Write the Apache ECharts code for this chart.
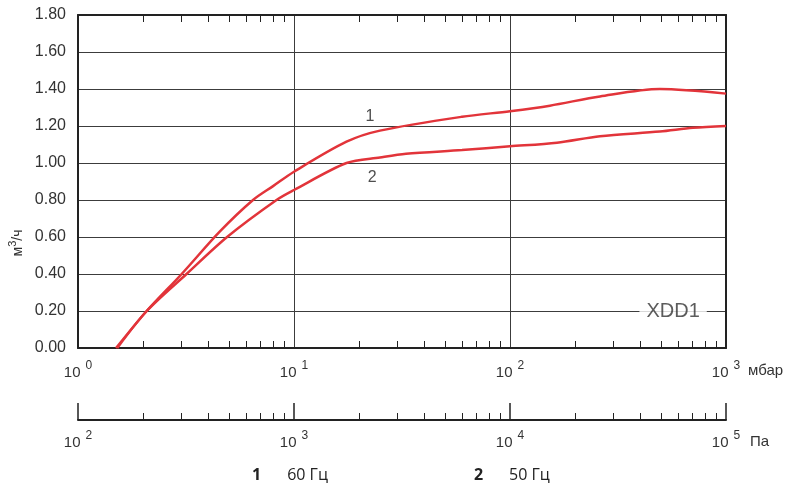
<!DOCTYPE html>
<html><head><meta charset="utf-8">
<script src="https://cdn.jsdelivr.net/npm/echarts@6/dist/echarts.min.js"></script>
<style>html,body{margin:0;padding:0;background:#fff}#c{width:800px;height:487px}</style>
</head><body><div id="c"></div>
<script>
// ---- data ----
const seriesNames = ['60 Гц', '50 Гц'];
const legendNums = ['1', '2'];
const curve60 = [[1.5,0],[2.08,0.2],[3.02,0.4],[4.54,0.63],[6.46,0.8],[8,0.875],[10,0.953],[17.5,1.115],[25,1.175],[60,1.25],[100,1.28],[153,1.31],[261,1.36],[494,1.40],[1000,1.375]];
const curve50 = [[1.52,0],[2.08,0.2],[3.18,0.4],[4.9,0.6],[8.3,0.8],[10,0.854],[17.5,1.0],[25,1.03],[33,1.05],[60,1.07],[100,1.09],[165,1.11],[261,1.145],[494,1.17],[703,1.19],[1000,1.2]];
const yTicks = [0, 0.2, 0.4, 0.6, 0.8, 1.0, 1.2, 1.4, 1.6, 1.8];
const mbarDecades = [1, 10, 100, 1000];
const mbarMinor = [2,3,4,5,6,7,8,9,20,30,40,50,60,70,80,90,200,300,400,500,600,700,800,900];
const paDecades = [100, 1000, 10000, 100000];
const paMinor = [200,300,400,500,600,700,800,900,2000,3000,4000,5000,6000,7000,8000,9000,20000,30000,40000,50000,60000,70000,80000,90000];
const curveTags = [{value:[22.5,1.25], name:'1'}, {value:[23,0.92], name:'2'}];
const modelTag = [{value:[569,0.2], name:'XDD1'}];
const unitMbar = 'мбар';
const unitPa = 'Па';
const yUnit = '{a|м}{s|3}{a|/ч}';

// ---- chart ----
const FONT = 'Liberation Sans, Arial, sans-serif';
const AX = '#222', GR = '#3c3c3c', TXT = '#333';
const RED = '#e2343a';
const powRich = {
  b: {fontSize: 15, fontFamily: FONT, color: TXT, verticalAlign: 'bottom', lineHeight: 20},
  s: {fontSize: 12, fontFamily: FONT, color: TXT, verticalAlign: 'top', lineHeight: 20, padding: [0,0,0,5]}
};
const powFmt = v => '{b|10}{s|' + Math.round(Math.log10(v)) + '}';
const el = document.getElementById('c');
const chart = echarts.init(el);
chart.setOption({
  animation: false,
  textStyle: {fontFamily: FONT},
  grid: [
    {left: 78, right: 74, top: 15, bottom: 139},
    {left: 78, right: 74, top: 400, height: 20}
  ],
  legend: {
    top: 462, left: 241, itemGap: 140, icon: 'none', itemWidth: 1, selectedMode: false,
    data: seriesNames,
    formatter: name => '{n|' + legendNums[seriesNames.indexOf(name)] + '}{t|' + name + '}',
    textStyle: {
      rich: {
        n: {fontWeight: 'bold', fontSize: 16, fontFamily: 'Open Sans', color: '#222', padding: [0, 26, 0, 0]},
        t: {fontSize: 16, fontFamily: 'Open Sans', color: '#222'}
      }
    }
  },
  xAxis: [
    { // main mbar axis: labels + vertical grid
      gridIndex: 0, type: 'log', logBase: 10, min: 1, max: 1000, position: 'bottom',
      axisLine: {show: true, lineStyle: {color: AX, width: 2}},
      axisTick: {show: false},
      axisLabel: {customValues: mbarDecades, formatter: powFmt, rich: powRich, margin: 12},
      splitLine: {show: true, lineStyle: {color: GR, width: 1}},
      name: unitMbar, nameLocation: 'end', nameGap: 22,
      nameTextStyle: {fontSize: 15, color: TXT, fontFamily: FONT, verticalAlign: 'top', padding: [15, 0, 0, 0]}
    },
    { // bottom minor ticks
      gridIndex: 0, type: 'log', logBase: 10, min: 1, max: 1000, position: 'bottom',
      axisLine: {show: false},
      axisTick: {show: true, inside: true, length: 7, customValues: mbarMinor, lineStyle: {color: AX, width: 1}},
      axisLabel: {show: false}, splitLine: {show: false}
    },
    { // top border with minor ticks
      gridIndex: 0, type: 'log', logBase: 10, min: 1, max: 1000, position: 'top',
      axisLine: {show: true, lineStyle: {color: AX, width: 2}},
      axisTick: {show: true, inside: true, length: 7, customValues: mbarMinor, lineStyle: {color: AX, width: 1}},
      axisLabel: {show: false}, splitLine: {show: false}
    },
    { // Pa axis: decades
      gridIndex: 1, type: 'log', logBase: 10, min: 100, max: 100000, position: 'bottom',
      axisLine: {show: true, lineStyle: {color: AX, width: 2}},
      axisTick: {show: true, inside: true, length: 17, customValues: paDecades, lineStyle: {color: AX, width: 1.5}},
      axisLabel: {customValues: paDecades, formatter: powFmt, rich: powRich, margin: 10},
      splitLine: {show: false},
      name: unitPa, nameLocation: 'end', nameGap: 24,
      nameTextStyle: {fontSize: 15, color: TXT, fontFamily: FONT, verticalAlign: 'top', padding: [14, 0, 0, 0]}
    },
    { // Pa axis minor ticks
      gridIndex: 1, type: 'log', logBase: 10, min: 100, max: 100000, position: 'bottom',
      axisLine: {show: false},
      axisTick: {show: true, inside: true, length: 7, customValues: paMinor, lineStyle: {color: AX, width: 1}},
      axisLabel: {show: false}, splitLine: {show: false}
    }
  ],
  yAxis: [
    {
      gridIndex: 0, type: 'value', min: 0, max: 1.8, interval: 0.2, position: 'left',
      axisLine: {show: true, lineStyle: {color: AX, width: 2}},
      axisTick: {show: false},
      axisLabel: {customValues: yTicks, formatter: v => v.toFixed(2), fontSize: 16, color: TXT, fontFamily: FONT, margin: 12},
      splitLine: {show: true, lineStyle: {color: GR, width: 1}}
    },
    {
      gridIndex: 0, type: 'value', min: 0, max: 1.8, position: 'right',
      axisLine: {show: true, lineStyle: {color: AX, width: 2}},
      axisTick: {show: false}, axisLabel: {show: false}, splitLine: {show: false}
    },
    {gridIndex: 1, type: 'value', min: 0, max: 1, show: false}
  ],
  graphic: [{
    type: 'text', x: 16, y: 243, rotation: Math.PI / 2,
    style: {
      text: yUnit, align: 'center', verticalAlign: 'middle',
      rich: {
        a: {fontSize: 14, fontFamily: FONT, fill: TXT, verticalAlign: 'bottom', lineHeight: 18},
        s: {fontSize: 11, fontFamily: FONT, fill: TXT, verticalAlign: 'top', lineHeight: 18}
      }
    }
  }],
  series: [
    {name: seriesNames[0], type: 'line', xAxisIndex: 0, yAxisIndex: 0, data: curve60, smooth: 0.3,
     showSymbol: false, lineStyle: {color: RED, width: 2.5}, itemStyle: {color: RED}, z: 5},
    {name: seriesNames[1], type: 'line', xAxisIndex: 0, yAxisIndex: 0, data: curve50, smooth: 0.3,
     showSymbol: false, lineStyle: {color: RED, width: 2.5}, itemStyle: {color: RED}, z: 5},
    {type: 'scatter', xAxisIndex: 0, yAxisIndex: 0, data: curveTags, symbolSize: 0, silent: true,
     label: {show: true, formatter: '{b}', position: 'inside', fontSize: 16, color: '#222', fontFamily: FONT}},
    {type: 'scatter', xAxisIndex: 0, yAxisIndex: 0, data: modelTag, symbolSize: 0, silent: true, z: 6,
     label: {show: true, formatter: '{b}', position: 'inside', fontSize: 20, color: TXT, fontFamily: FONT,
             backgroundColor: '#fff', padding: [1, 7]}}
  ]
});
</script></body></html>
